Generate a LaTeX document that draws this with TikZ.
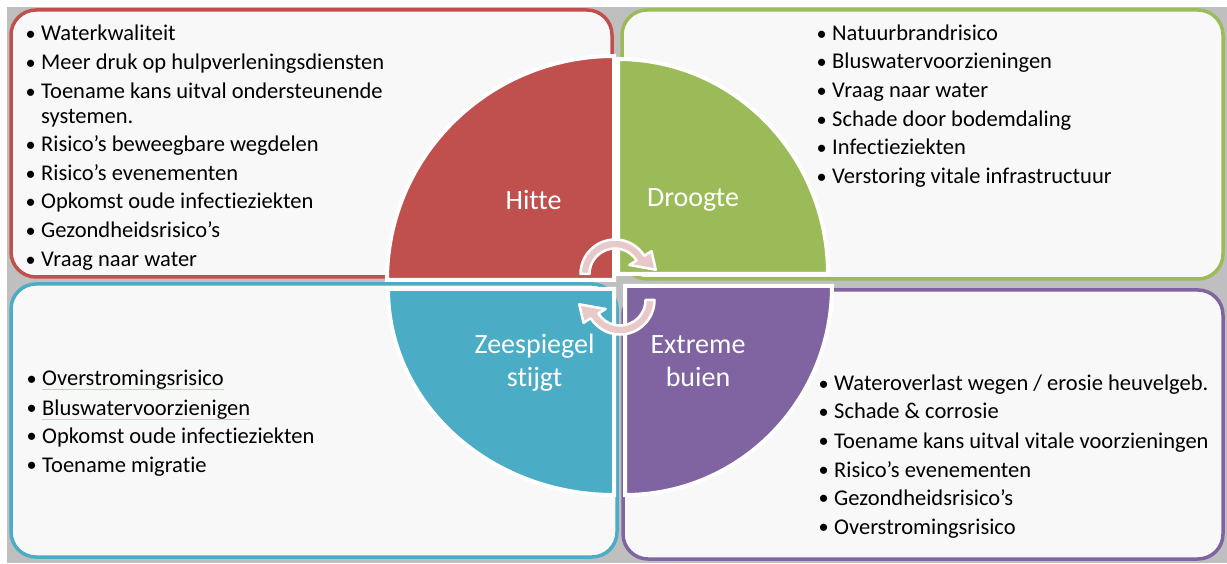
\documentclass[tikz,border=0pt]{standalone}
\usepackage{fontspec}
\setmainfont{Carlito}[Ligatures=NoCommon]
\definecolor{hitte}{HTML}{C0504D}
\definecolor{droog}{HTML}{9BBB59}
\definecolor{zee}{HTML}{4BACC6}
\definecolor{buien}{HTML}{8064A2}
\definecolor{boxfill}{HTML}{F8F8F8}
\definecolor{backgray}{HTML}{BFBFBF}
\definecolor{cyclepink}{HTML}{E8C9C9}
\definecolor{spellmark}{HTML}{F2BCBC}
\newcommand{\bitem}[1]{\makebox[16pt][l]{\hspace{0.5pt}\raisebox{0.5pt}{\scalebox{0.9}{•}}}#1}
\begin{document}
\begin{tikzpicture}[x=1pt,y=1pt,
  panel/.style={line width=3.5pt, rounded corners=25pt, fill=boxfill},
  quad/.style={draw=white, line width=4pt},
  cyc/.style={fill=cyclepink, draw=white, line width=2.5pt, line join=round},
  item/.style={anchor=base west, inner sep=0pt, font=\fontsize{22.5}{26}\selectfont, text=black},
  lbl/.style={anchor=base, inner sep=0pt, font=\fontsize{28}{33}\selectfont, text=white},
  spell/.style={color=spellmark, line width=1pt}]
\useasboundingbox (0,0) rectangle (1227,563);
\fill[white] (0,0) rectangle (1227,563);
\fill[backgray] (7,0) rectangle (1227,556);

% the four panels
\draw[panel, draw=hitte] (11,286) rectangle (612,553);
\draw[panel, draw=droog] (622,284) rectangle (1223,553);
\draw[panel, draw=zee]   (11,6) rectangle (617,279);
\draw[panel, draw=buien] (623,4) rectangle (1223,273);

% quarter discs
\filldraw[quad, fill=hitte] (614,283) -- (387,283) arc[start angle=180, end angle=90, x radius=227, y radius=224] -- cycle;
\filldraw[quad, fill=droog] (618,289) -- (618,504) arc[start angle=90, end angle=0, x radius=210, y radius=215] -- cycle;
\filldraw[quad, fill=zee]   (614,274) -- (388,274) arc[start angle=180, end angle=270, x radius=226, y radius=206] -- cycle;
\filldraw[quad, fill=buien] (625,277) -- (832,277) arc[start angle=0, end angle=-90, x radius=207, y radius=209] -- cycle;

% circular arrows in the middle
\begin{scope}[shift={(615,289)}]
  \filldraw[cyc] (180:34.5) arc[start angle=180, end angle=32, radius=34.5]
    -- (32:43) -- (6:41) -- (32:17) -- (32:25.5)
    arc[start angle=32, end angle=180, radius=25.5] -- cycle;
\end{scope}
\begin{scope}[shift={(620,263)}]
  \filldraw[cyc] (0:34.5) arc[start angle=0, end angle=-148, radius=34.5]
    -- (-148:43) -- (-174:41) -- (-148:17) -- (-148:25.5)
    arc[start angle=-148, end angle=0, radius=25.5] -- cycle;
\end{scope}

% quadrant labels
\node[lbl] (lh)  at (533.5,353) {Hitte};
\node[lbl] (ld)  at (693,356)   {Droogte};
\node[lbl] (lz1) at (534.5,209) {Zeespiegel};
\node[lbl] (lz2) at (534.5,176) {stijgt};
\node[lbl] (le1) at (698,209)   {Extreme};
\node[lbl] (le2) at (698,176)   {buien};

% Hitte
\node[item] (h1) at (25,522) {\bitem{Waterkwaliteit}};
\node[item] (h2) at (25,493) {\bitem{Meer druk op hulpverleningsdiensten}};
\node[item] (h3) at (25,464) {\bitem{Toename kans uitval ondersteunende}};
\node[item] (h4) at (41,439) {systemen.};
\node[item] (h5) at (25,411) {\bitem{Risico’s beweegbare wegdelen}};
\node[item] (h6) at (25,382) {\bitem{Risico’s evenementen}};
\node[item] (h7) at (25,354) {\bitem{Opkomst oude infectieziekten}};
\node[item] (h8) at (25,325) {\bitem{Gezondheidsrisico’s}};
\node[item] (h9) at (25,296) {\bitem{Vraag naar water}};

% Droogte
\node[item] (d1) at (816,522) {\bitem{Natuurbrandrisico}};
\node[item] (d2) at (816,494) {\bitem{Bluswatervoorzieningen}};
\node[item] (d3) at (816,465) {\bitem{Vraag naar water}};
\node[item] (d4) at (816,436) {\bitem{Schade door bodemdaling}};
\node[item] (d5) at (816,408) {\bitem{Infectieziekten}};
\node[item] (d6) at (816,379) {\bitem{Verstoring vitale infrastructuur}};

% Zeespiegel stijgt
\node[item] (z1) at (26,177) {\bitem{Overstromingsrisico}};
\node[item] (z2) at (26,148) {\bitem{Bluswatervoorzienigen}};
\node[item] (z3) at (26,120) {\bitem{Opkomst oude infectieziekten}};
\node[item] (z4) at (26,91)  {\bitem{Toename migratie}};
\draw[spell] ([xshift=16pt,yshift=-4pt]z1.base west) -- ([yshift=-4pt]z1.base east);
\draw[spell] ([xshift=16pt,yshift=-4pt]z2.base west) -- ([yshift=-4pt]z2.base east);

% Extreme buien
\node[item] (e1) at (818,172) {\bitem{Wateroverlast wegen / erosie heuvelgeb.}};
\node[item] (e2) at (818,144) {\bitem{Schade \& corrosie}};
\node[item] (e3) at (818,115) {\bitem{Toename kans uitval vitale voorzieningen}};
\node[item] (e4) at (818,86)  {\bitem{Risico’s evenementen}};
\node[item] (e5) at (818,58)  {\bitem{Gezondheidsrisico’s}};
\node[item] (e6) at (818,29)  {\bitem{Overstromingsrisico}};
\end{tikzpicture}
\end{document}
